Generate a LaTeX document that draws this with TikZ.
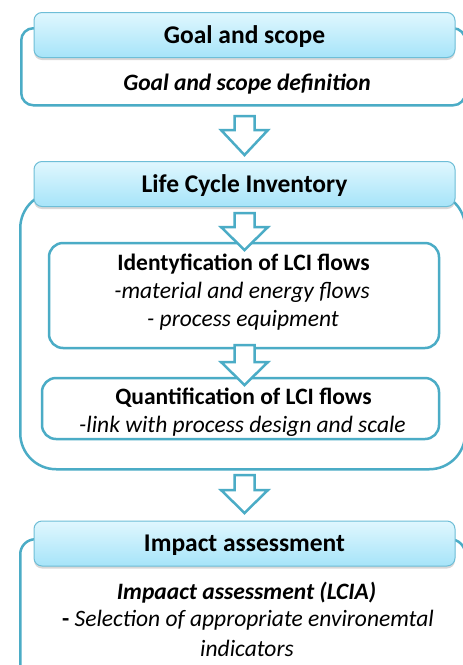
\documentclass[tikz,border=0pt]{standalone}
\usepackage{fontspec}
\setmainfont{Carlito}
\usetikzlibrary{shadows}
\definecolor{lcaline}{RGB}{75,172,198}
\definecolor{lcaborder}{RGB}{110,190,215}
\definecolor{headtop}{RGB}{224,247,254}
\definecolor{headbot}{RGB}{166,228,249}
\tikzset{
  outerbox/.style={draw=lcaline, line width=2.5pt, fill=white, inner sep=0pt, anchor=north west},
  innerbox/.style={draw=lcaline, line width=2.5pt, fill=white, inner sep=0pt, rounded corners=14pt},
  headbox/.style={draw=lcaborder, line width=1pt, rounded corners=8pt, top color=headtop, bottom color=headbot,
     drop shadow={shadow xshift=0pt, shadow yshift=-2.5pt, opacity=0.3},
     minimum width=421pt, minimum height=45pt, inner sep=0pt, text depth=0pt,
     font=\bfseries\fontsize{25.5}{30}\selectfont},
  barrow/.style={draw=lcaline, fill=white, line width=2.5pt, line join=miter},
  boldtxt/.style={font=\bfseries\fontsize{23.5}{28}\selectfont, inner sep=0pt},
  ittxt/.style={font=\itshape\fontsize{23.5}{28}\selectfont, inner sep=0pt},
  bittxt/.style={font=\bfseries\itshape\fontsize{23.5}{28}\selectfont, inner sep=0pt}
}
\begin{document}
\begin{tikzpicture}[x=1pt,y=-1pt]
\clip (0,0) rectangle (463,665);
\fill[white] (0,0) rectangle (463,665);
% Goal and scope
\node[outerbox, rounded corners=12pt, minimum width=444pt, minimum height=77pt] (goalouter) at (20,27) {};
\node[headbox] (goalhead) at (244.5,35) {Goal and scope};
\node[bittxt] (goaldef) at (247,84) {Goal and scope definition};
% arrow 1
\draw[barrow] (234.5,116) -- (254.5,116) -- (254.5,130) -- (268,130) -- (244.5,155) -- (221,130) -- (234.5,130) -- cycle;
% LCI
\node[outerbox, rounded corners=36pt, minimum width=445pt, minimum height=277pt] (lciouter) at (19,191) {};
\node[headbox] (lcihead) at (244.5,184) {Life Cycle Inventory};
\node[innerbox, minimum width=390pt, minimum height=105pt] (ident) at (244,295.5) {};
\node[boldtxt] (identt) at (243.5,264) {Identyfication of LCI flows};
\node[ittxt] (ident1) at (242,292) {-material and energy flows};
\node[ittxt] (ident2) at (243,320) {- process equipment};
\draw[barrow] (234.5,213) -- (254.5,213) -- (254.5,227) -- (268,227) -- (244.5,250) -- (221,227) -- (234.5,227) -- cycle;
\node[innerbox, minimum width=397pt, minimum height=61pt] (quant) at (240.5,408.5) {};
\node[boldtxt] (quantt) at (243.5,398) {Quantification of LCI flows};
\node[ittxt] (quant1) at (242.5,426) {-link with process design and scale};
\draw[barrow] (234.5,345) -- (254.5,345) -- (254.5,362) -- (268,362) -- (244.5,385) -- (221,362) -- (234.5,362) -- cycle;
% arrow 4
\draw[barrow] (234.5,475) -- (254.5,475) -- (254.5,490) -- (268,490) -- (244.5,513) -- (221,490) -- (234.5,490) -- cycle;
% Impact
\node[outerbox, rounded corners=15pt, minimum width=445pt, minimum height=150pt] (impouter) at (19,538) {};
\node[headbox] (imphead) at (244.5,543.5) {Impact assessment};
\node[bittxt] (imp0) at (246.5,593) {Impaact assessment (LCIA)};
\node[ittxt] (imp1) at (248,620) {\textbf{\upshape -} Selection of appropriate environemtal};
\node[ittxt] (imp2) at (247,648) {indicators};
\end{tikzpicture}
\end{document}
